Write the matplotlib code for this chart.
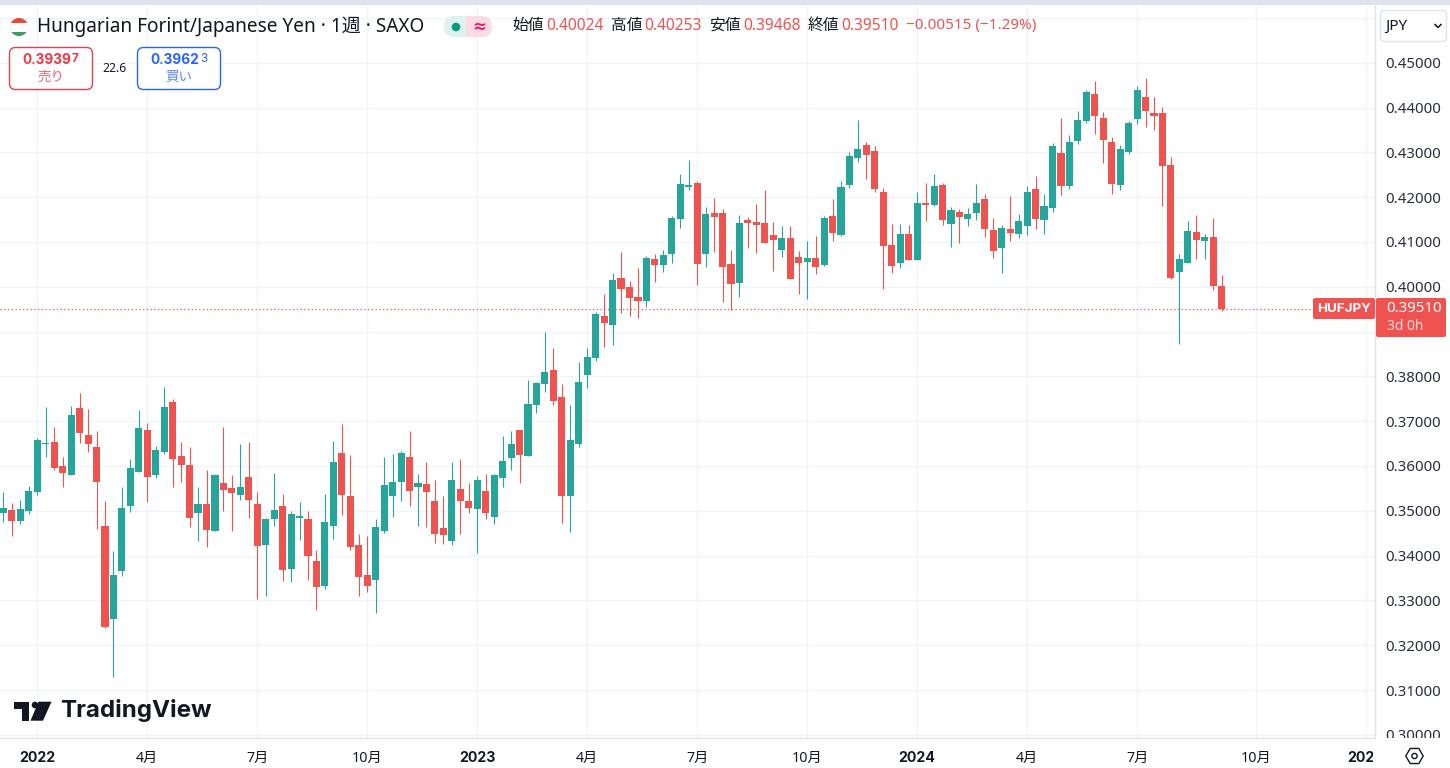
import numpy as np
import matplotlib
matplotlib.use("Agg")
import matplotlib.pyplot as plt
from matplotlib.patches import Circle, FancyBboxPatch, Polygon, Rectangle, RegularPolygon
from matplotlib.transforms import Bbox

plt.rcParams["font.family"] = ["Noto Sans", "Noto Sans CJK JP", "DejaVu Sans"]

UP = "#26a69a"
DOWN = "#ef5350"
INK = "#131722"
GRID = "#f0f3fa"
EDGE = "#e0e3eb"

# weekly candles
opens = [
    .3495, .3502, .3477, .3499, .3541, .3649, .3654, .3599, .3581, .3730,
    .3670, .3643, .3467, .3259, .3365, .3510, .3587, .3681, .3579, .3632,
    .3743, .3623, .3603, .3495, .3516, .3456, .3563, .3550, .3535, .3576,
    .3516, .3424, .3481, .3510, .3370, .3485, .3481, .3389, .3332, .3466,
    .3630, .3534, .3423, .3356, .3345, .3454, .3532, .3565, .3621, .3552,
    .3559, .3521, .3461, .3432, .3548, .3521, .3503, .3545, .3487, .3574,
    .3617, .3681, .3623, .3735, .3784, .3815, .3755, .3532, .3648, .3804,
    .3841, .3935, .3915, .4020, .4000, .3978, .3969, .4062, .4049, .4074,
    .4152, .4223, .4232, .4074, .4165, .4165, .4051, .4009, .4149, .4145,
    .4143, .4116, .4083, .4109, .4067, .4056, .4065, .4049, .4158, .4116,
    .4228, .4288, .4317, .4303, .4212, .4094, .4054, .4118, .4060, .4187,
    .4183, .4228, .4141, .4167, .4152, .4165, .4196, .4127, .4087, .4129,
    .4118, .4136, .4219, .4149, .4176, .4298, .4225, .4325, .4370, .4430,
    .4376, .4323, .4227, .4300, .4374, .4423, .4387, .4387, .4271, .4033,
    .4053, .4122, .4102, .4111, .40024,
]
closes = [
    .3507, .3477, .3504, .3545, .3659, .3651, .3595, .3584, .3714, .3673,
    .3648, .3564, .3240, .3356, .3507, .3596, .3685, .3575, .3636, .3732,
    .3615, .3603, .3484, .3516, .3457, .3579, .3547, .3539, .3554, .3524,
    .3421, .3482, .3501, .3368, .3492, .3486, .3399, .3330, .3474, .3610,
    .3535, .3420, .3352, .3332, .3463, .3557, .3565, .3628, .3545, .3563,
    .3541, .3449, .3445, .3568, .3521, .3507, .3568, .3494, .3581, .3612,
    .3648, .3624, .3739, .3786, .3809, .3746, .3534, .3659, .3788, .3844,
    .3940, .3920, .4016, .3996, .3975, .3969, .4065, .4049, .4071, .4154,
    .4230, .4224, .4051, .4163, .4156, .4045, .4007, .4143, .4143, .4138,
    .4098, .4105, .4109, .4018, .4054, .4065, .4045, .4154, .4120, .4223,
    .4292, .4308, .4294, .4219, .4090, .4047, .4118, .4060, .4187, .4183,
    .4225, .4149, .4172, .4156, .4163, .4187, .4129, .4080, .4132, .4120,
    .4147, .4212, .4152, .4181, .4314, .4225, .4324, .4372, .4434, .4381,
    .4327, .4229, .4307, .4365, .4439, .4392, .4381, .4269, .4019, .4062,
    .4124, .4104, .4111, .4001, .39510,
]
highs = [
    .3541, .3517, .3523, .3556, .3662, .3732, .3686, .3619, .3734, .3763,
    .3728, .3679, .3521, .3410, .3553, .3615, .3726, .3695, .3644, .3777,
    .3750, .3654, .3643, .3554, .3592, .3582, .3688, .3581, .3650, .3653,
    .3541, .3485, .3584, .3538, .3499, .3519, .3499, .3412, .3537, .3655,
    .3693, .3624, .3449, .3443, .3481, .3620, .3626, .3633, .3679, .3582,
    .3610, .3568, .3532, .3610, .3615, .3563, .3577, .3583, .3583, .3666,
    .3677, .3681, .3791, .3788, .3900, .3864, .3784, .3737, .3831, .3864,
    .3944, .3984, .4031, .4078, .4013, .4042, .4069, .4074, .4083, .4158,
    .4252, .4283, .4236, .4178, .4197, .4174, .4083, .4161, .4156, .4185,
    .4216, .4145, .4136, .4136, .4080, .4103, .4114, .4158, .4196, .4236,
    .4301, .4372, .4323, .4315, .4221, .4141, .4141, .4138, .4212, .4232,
    .4252, .4232, .4179, .4174, .4176, .4230, .4207, .4154, .4138, .4203,
    .4163, .4225, .4248, .4207, .4321, .4376, .4338, .4393, .4439, .4459,
    .4390, .4334, .4316, .4370, .4448, .4465, .4423, .4401, .4289, .4074,
    .4146, .4160, .4117, .4153, .40253,
]
lows = [
    .3474, .3444, .3471, .3492, .3536, .3621, .3590, .3554, .3581, .3652,
    .3631, .3459, .3238, .3128, .3355, .3497, .3587, .3520, .3573, .3627,
    .3553, .3565, .3464, .3432, .3419, .3454, .3499, .3456, .3524, .3485,
    .3303, .3310, .3467, .3343, .3341, .3434, .3345, .3278, .3325, .3438,
    .3491, .3412, .3309, .3319, .3273, .3450, .3487, .3521, .3510, .3467,
    .3464, .3428, .3425, .3423, .3449, .3494, .3405, .3481, .3470, .3552,
    .3592, .3561, .3623, .3719, .3766, .3735, .3472, .3452, .3643, .3773,
    .3835, .3866, .3870, .3942, .3935, .3931, .3955, .4011, .4033, .4054,
    .4132, .4216, .4004, .4045, .4078, .3967, .3949, .3978, .4087, .4075,
    .4098, .4036, .4067, .4018, .3984, .3973, .4029, .4047, .4103, .4114,
    .4221, .4279, .4241, .4212, .3996, .4031, .4042, .4060, .4060, .4147,
    .4181, .4138, .4088, .4098, .4136, .4149, .4112, .4065, .4031, .4103,
    .4109, .4116, .4129, .4118, .4167, .4204, .4218, .4318, .4365, .4341,
    .4276, .4207, .4216, .4296, .4363, .4356, .4349, .4180, .4017, .3872,
    .4053, .4062, .4063, .3993, .39468,
]
# week 0 is the first week of January 2022
first_week = -4
month_weeks = [0, 13, 26, 39, 52, 65, 78, 91, 104, 117, 130, 144, 157]
month_labels = ["2022", "4月", "7月", "10月", "2023", "4月", "7月", "10月", "2024", "4月", "7月", "10月", "2025"]
price_ticks = [.30, .31, .32, .33, .34, .35, .36, .37, .38, .39, .40, .41, .42, .43, .44, .45, .46]
# .39 sits behind the last price tag, .46 behind the currency button
price_labels = ["0.30000", "0.31000", "0.32000", "0.33000", "0.34000", "0.35000", "0.36000", "0.37000", "0.38000",
                "", "0.40000", "0.41000", "0.42000", "0.43000", "0.44000", "0.45000", ""]
last_price = 0.39510

W, H = 1450, 768
PLOT_R, PLOT_B, PLOT_T = 1375, 738, 5

fig = plt.figure(figsize=(W / 100, H / 100), dpi=100, facecolor="white")
ax = fig.add_axes([0, (H - PLOT_B) / H, PLOT_R / W, (PLOT_B - PLOT_T) / H])

x = np.arange(len(opens)) + first_week
o, c = np.array(opens), np.array(closes)
colors = [UP if cl >= op else DOWN for op, cl in zip(opens, closes)]
ax.vlines(x, lows, highs, colors=colors, lw=0.8, zorder=3)
ax.bar(x, np.maximum(np.abs(c - o), 0.0003), bottom=np.minimum(o, c), width=0.84, color=colors, lw=0, zorder=3)
ax.axhline(last_price, color=DOWN, lw=0.9, ls=(0, (1, 2)), zorder=2)

ax.set_xlim(-37.3 / 8.46, (PLOT_R - 37.3) / 8.46)
ax.set_ylim(0.45 - (PLOT_B - 62.7) / 4481, 0.45 - (PLOT_T - 62.7) / 4481)
ax.set_xticks(month_weeks, month_labels)
ax.set_yticks(price_ticks, price_labels)
ax.yaxis.tick_right()
ax.tick_params(length=0)
ax.tick_params(axis="x", pad=9, labelsize=10.2, labelcolor=INK)
ax.tick_params(axis="y", pad=7.5, labelsize=10.8, labelcolor="#2a2e39")
ax.grid(True, color=GRID, lw=0.9, zorder=0)
ax.set_axisbelow(True)
for name, spine in ax.spines.items():
    spine.set_visible(name in ("right", "bottom"))
    spine.set_color(EDGE)
    spine.set_linewidth(1)

# labels get cut at the scale edges like on the screen
for tick in ax.yaxis.get_major_ticks():
    tick.label2.set_clip_box(Bbox.from_extents(PLOT_R, H - PLOT_B, W, H))
    tick.label2.set_clip_on(True)
for tick, lab in zip(ax.xaxis.get_major_ticks(), month_labels):
    tick.label1.set_clip_box(Bbox.from_extents(0, 0, PLOT_R - 2, H))
    tick.label1.set_clip_on(True)
    if lab.isdigit():
        tick.label1.set_fontfamily("Inter")
        tick.label1.set_fontweight("bold")

# screen furniture, in pixel coordinates
ui = fig.add_axes([0, 0, 1, 1], zorder=5)
ui.set_xlim(0, W)
ui.set_ylim(H, 0)
ui.axis("off")
ui.patch.set_alpha(0)


def box(x0, y0, x1, y1, fc="white", ec="none", lw=1.0, r=4):
    patch = FancyBboxPatch((x0 + r, y0 + r), x1 - x0 - 2 * r, y1 - y0 - 2 * r,
                           boxstyle=f"round,pad={r},rounding_size={r}", fc=fc, ec=ec, lw=lw)
    ui.add_patch(patch)
    return patch


ui.add_patch(Rectangle((0, 0), W, 4.5, fc=EDGE, lw=0))

# flag
disc = Circle((19, 27), 9, fc="white", ec="#f0f3fa", lw=0.8)
ui.add_patch(disc)
for y0, col in ((18, "#e8483f"), (31.5, "#3c9a5f")):
    band = Rectangle((10, y0), 18, 5 if y0 < 20 else 6, fc=col, lw=0)
    ui.add_patch(band)
    band.set_clip_path(disc)

ui.text(37, 27, "Hungarian Forint/Japanese Yen · 1週 · SAXO", fontsize=13.7, color=INK, va="center", ha="left")

box(444, 16, 474, 37, fc="#dcf2ef", r=10)
box(466, 16, 492, 37, fc="#fbdce6", r=10)
ui.add_patch(Rectangle((466, 16), 8, 21, fc="#fbdce6", lw=0))
ui.add_patch(Circle((456, 27), 4.3, fc="#089981", lw=0))
ui.text(479, 26.5, "≈", fontsize=12, color="#e91e63", ha="center", va="center", fontweight="bold", family="DejaVu Sans")

ohlc_names = [("始値", 512), ("高値", 611), ("安値", 709), ("終値", 808)]
ohlc_values = [("0.40024", 546), ("0.40253", 644), ("0.39468", 743), ("0.39510", 841)]
for s, px in ohlc_names:
    ui.text(px, 26, s, fontsize=11.3, color=INK, ha="left", va="center")
for s, px in ohlc_values:
    ui.text(px, 26, s, fontsize=11.2, color=DOWN, ha="left", va="center")
ui.text(906, 26, "−0.00515 (−1.29%)", fontsize=11, color=DOWN, ha="left", va="center")

# sell / buy buttons
box(9.5, 47.5, 92.5, 89.5, ec="#e0424f", lw=1, r=6)
ui.text(71, 60, "0.3939", fontsize=9.8, color="#f23645", ha="right", va="center", fontweight="bold", family="Inter")
ui.text(72, 59, "7", fontsize=8.5, color="#f23645", ha="left", va="center", fontweight="bold", family="Inter")
ui.text(51, 77.5, "売り", fontsize=9.7, color="#f0656f", ha="center", va="center")
ui.text(115, 68, "22.6", fontsize=8.8, color=INK, ha="center", va="center")
box(137.5, 47.5, 220.5, 89.5, ec="#2962ff", lw=1, r=6)
ui.text(199, 60, "0.3962", fontsize=9.8, color="#2962ff", ha="right", va="center", fontweight="bold", family="Inter")
ui.text(200, 59, "3", fontsize=8.5, color="#2962ff", ha="left", va="center", family="Inter")
ui.text(179, 77.5, "買い", fontsize=9.7, color="#5b85ff", ha="center", va="center")

# currency button
box(1380.5, 10.5, 1446.5, 41.5, ec=EDGE, lw=1, r=4)
ui.text(1385, 26.5, "JPY", fontsize=11, color=INK, ha="left", va="center")
ui.plot([1435, 1438, 1441], [24.5, 27.5, 24.5], color=INK, lw=1.1)

# last price tags
box(1313, 298, 1375, 319, fc=DOWN, r=2)
ui.text(1344.5, 308.5, "HUFJPY", fontsize=9.6, color="white", ha="center", va="center", fontweight="bold", family="Inter")
box(1376, 298, 1446, 337, fc=DOWN, r=2)
ui.text(1414, 308.5, "0.39510", fontsize=10.8, color="white", ha="center", va="center")
ui.text(1405.5, 326.5, "3d 0h", fontsize=10, color="#fbd7d6", ha="center", va="center")

# logo
ui.add_patch(Polygon([(14, 701.7), (29.5, 701.7), (29.5, 720.7), (21.7, 720.7), (21.7, 708.5), (14, 708.5)], fc=INK, lw=0))
ui.add_patch(Circle((35, 705), 3.3, fc=INK, lw=0))
ui.add_patch(Polygon([(38.5, 701.7), (51.5, 701.7), (43, 720.7), (30.5, 720.7)], fc=INK, lw=0))
ui.text(60, 711, "TradingView", fontsize=17.4, color=INK, ha="left", va="center", fontweight="bold", family="Inter")

# settings icon
ui.add_patch(RegularPolygon((1414.5, 756), 6, radius=8.7, orientation=np.pi / 6, fc="none", ec=INK, lw=1))
ui.add_patch(Circle((1414.5, 756), 2.6, fc="none", ec=INK, lw=1))

fig.savefig("out.png", dpi=100)
